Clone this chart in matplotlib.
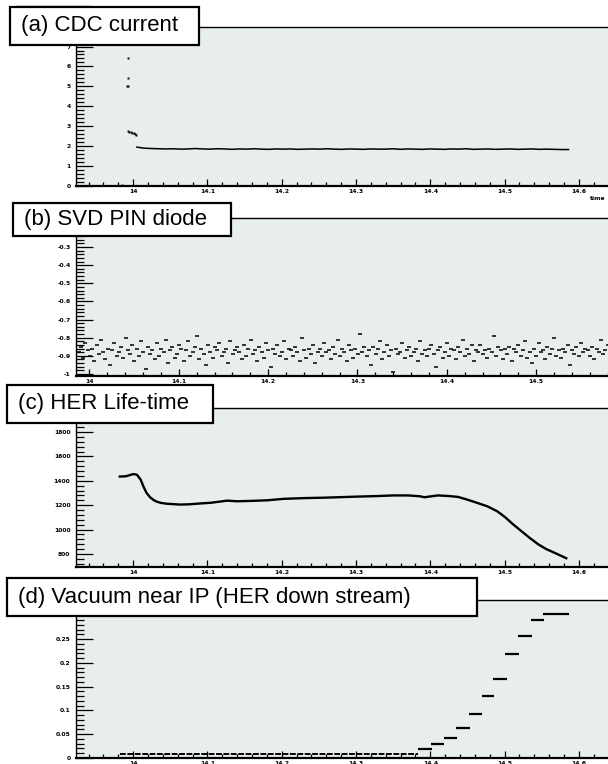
import matplotlib
matplotlib.use("Agg")
import matplotlib.pyplot as plt
import numpy as np
from matplotlib.patches import Rectangle
from matplotlib.lines import Line2D
from matplotlib.ticker import MultipleLocator, AutoMinorLocator

# ---- data ----
# (a) CDC current
cdc_early_t = [13.985, 13.993, 13.993, 13.991, 13.993, 13.993, 13.995, 13.997, 13.999, 14.001, 14.003, 14.004]
cdc_early_v = [0.05, 6.40, 5.40, 5.00, 5.03, 2.74, 2.72, 2.70, 2.67, 2.64, 2.61, 2.58]
cdc_flat_start, cdc_flat_end = 14.005, 14.586
cdc_flat_v = [1.95, 1.90, 1.88, 1.87, 1.86, 1.87, 1.85, 1.86, 1.88, 1.86, 1.85, 1.87,
              1.86, 1.84, 1.86, 1.85, 1.87, 1.85, 1.84, 1.86, 1.85, 1.86, 1.84, 1.85,
              1.86, 1.85, 1.87, 1.85, 1.84, 1.86, 1.85, 1.84, 1.86, 1.85, 1.85, 1.87,
              1.84, 1.86, 1.85, 1.84, 1.86, 1.85, 1.84, 1.86, 1.85, 1.87, 1.84, 1.85,
              1.86, 1.84, 1.85, 1.86, 1.84, 1.85, 1.86, 1.84, 1.85, 1.84, 1.83, 1.83]

# (b) SVD PIN diode
pin_start, pin_end = 13.988, 14.585
pin_v = [-0.88, -0.85, -0.91, -0.83, -0.87, -0.90, -0.86, -0.93, -0.84, -0.89, -0.81, -0.88,
         -0.92, -0.86, -0.95, -0.87, -0.83, -0.90, -0.88, -0.85, -0.91, -0.80, -0.87, -0.89,
         -0.84, -0.93, -0.86, -0.90, -0.82, -0.88, -0.97, -0.85, -0.89, -0.87, -0.92, -0.83,
         -0.90, -0.86, -0.88, -0.81, -0.94, -0.87, -0.85, -0.91, -0.89, -0.84, -0.86, -0.93,
         -0.87, -0.82, -0.90, -0.88, -0.85, -0.79, -0.92, -0.86, -0.89, -0.95, -0.84, -0.88,
         -0.91, -0.85, -0.87, -0.83, -0.90, -0.88, -0.86, -0.94, -0.82, -0.89, -0.87, -0.85,
         -0.88, -0.92, -0.84, -0.90, -0.86, -0.81, -0.89, -0.87, -0.93, -0.85, -0.88, -0.91,
         -0.83, -0.87, -0.96, -0.86, -0.89, -0.84, -0.90, -0.88, -0.82, -0.92, -0.86, -0.87,
         -0.90, -0.85, -0.88, -0.93, -0.80, -0.87, -0.91, -0.86, -0.89, -0.84, -0.94, -0.88,
         -0.86, -0.90, -0.83, -0.88, -0.87, -0.92, -0.85, -0.89, -0.81, -0.90, -0.86, -0.88,
         -0.93, -0.84, -0.87, -0.91, -0.86, -0.89, -0.78, -0.88, -0.85, -0.90, -0.87, -0.95,
         -0.85, -0.89, -0.86, -0.82, -0.92, -0.88, -0.84, -0.90, -0.87, -0.99, -0.86, -0.89,
         -0.88, -0.83, -0.91, -0.87, -0.85, -0.90, -0.88, -0.86, -0.93, -0.82, -0.89, -0.87,
         -0.90, -0.86, -0.84, -0.89, -0.96, -0.87, -0.85, -0.91, -0.88, -0.83, -0.90, -0.86,
         -0.87, -0.92, -0.85, -0.88, -0.81, -0.90, -0.86, -0.89, -0.84, -0.93, -0.87, -0.88,
         -0.84, -0.89, -0.87, -0.91, -0.86, -0.88, -0.79, -0.90, -0.85, -0.87, -0.92, -0.86,
         -0.89, -0.85, -0.93, -0.86, -0.88, -0.84, -0.90, -0.87, -0.82, -0.91, -0.88, -0.94,
         -0.86, -0.90, -0.83, -0.88, -0.87, -0.92, -0.85, -0.89, -0.86, -0.80, -0.90, -0.87,
         -0.91, -0.86, -0.88, -0.84, -0.95, -0.87, -0.89, -0.85, -0.90, -0.83, -0.88, -0.86,
         -0.87, -0.90, -0.85, -0.92, -0.86, -0.88, -0.81, -0.89, -0.87, -0.84, -0.91, -0.88]

# (c) HER life-time
life_t = [13.982, 13.990, 14.000, 14.005, 14.010, 14.014, 14.018, 14.023, 14.028, 14.032,
          14.038, 14.045, 14.055, 14.063, 14.075, 14.090, 14.105, 14.126, 14.140, 14.158,
          14.180, 14.203, 14.230, 14.260, 14.300, 14.330, 14.350, 14.370, 14.386, 14.392,
          14.410, 14.425, 14.437, 14.450, 14.465, 14.477, 14.490, 14.500, 14.511, 14.522,
          14.533, 14.545, 14.556, 14.567, 14.583]
life_v = [1435, 1437, 1455, 1450, 1410, 1350, 1300, 1263, 1240, 1228,
          1218, 1212, 1208, 1205, 1207, 1214, 1220, 1237, 1232, 1235,
          1240, 1252, 1258, 1262, 1270, 1275, 1280, 1280, 1273, 1265,
          1280, 1275, 1268, 1245, 1215, 1190, 1150, 1105, 1045, 990,
          935, 880, 840, 810, 765]

# (d) vacuum near IP, stepwise readout
vac_start = [13.982, 14.384, 14.401, 14.418, 14.435, 14.452, 14.469, 14.485, 14.501, 14.518, 14.535, 14.552]
vac_end = [14.384, 14.402, 14.419, 14.436, 14.453, 14.469, 14.486, 14.503, 14.519, 14.537, 14.553, 14.586]
vac_v = [0.008, 0.018, 0.029, 0.043, 0.064, 0.093, 0.130, 0.167, 0.218, 0.256, 0.291, 0.303]

labels = ["(a) CDC current", "(b) SVD PIN diode", "(c) HER Life-time",
          "(d) Vacuum near IP (HER down stream)"]

W, H = 608, 764
BG = "#e8eded"
fig = plt.figure(figsize=(W / 100, H / 100), dpi=100)


def px_axes(left, top, bottom, right=622):
    return fig.add_axes([left / W, 1 - bottom / H, (right - left) / W, (bottom - top) / H])


def style(ax, ymaj):
    ax.set_facecolor(BG)
    ax.xaxis.set_major_locator(MultipleLocator(0.1))
    ax.xaxis.set_minor_locator(AutoMinorLocator(5))
    ax.yaxis.set_major_locator(MultipleLocator(ymaj))
    ax.yaxis.set_minor_locator(AutoMinorLocator(5))
    ax.tick_params(axis="y", which="major", direction="in", length=12, width=0.9, pad=4)
    ax.tick_params(axis="y", which="minor", direction="in", length=5.5, width=0.9)
    ax.tick_params(axis="x", which="major", direction="in", length=5, width=0.9, pad=2)
    ax.tick_params(axis="x", which="minor", direction="in", length=3, width=0.9)
    ax.tick_params(labelsize=4.3)
    for lab in ax.get_xticklabels() + ax.get_yticklabels():
        lab.set_fontweight("bold")
    ax.xaxis.set_major_formatter(plt.FuncFormatter(lambda v, p: "%g" % round(v, 2)))
    ax.yaxis.set_major_formatter(plt.FuncFormatter(lambda v, p: "%g" % round(v, 3)))
    ax.spines["top"].set_linewidth(1.0)
    ax.spines["left"].set_linewidth(1.0)
    ax.spines["bottom"].set_linewidth(1.6)


def label_box(x0, y0, x1, y1, text):
    fig.patches.append(Rectangle((x0 / W, 1 - y1 / H), (x1 - x0) / W, (y1 - y0) / H,
                                 transform=fig.transFigure, facecolor="white",
                                 edgecolor="black", linewidth=1.6, zorder=5))
    fig.text((x0 + 11) / W, 1 - (y0 + y1) / 2 / H, text, fontsize=16,
             family="Liberation Sans", va="center", ha="left", zorder=6)


# (a)
ax_a = px_axes(76, 27, 186)
ax_a.plot(cdc_early_t, cdc_early_v, "s", ms=1.4, color="black", mew=0)
t_a = np.linspace(cdc_flat_start, cdc_flat_end, len(cdc_flat_v))
ax_a.plot(t_a, cdc_flat_v, "-", lw=1.1, color="black")
ax_a.set_xlim(13.923, 14.658)
ax_a.set_ylim(0, 7.98)
style(ax_a, 1)
fig.text(590 / W, 1 - 199 / H, "time", fontsize=4.3, fontweight="bold", va="center")

# (b)
ax_b = px_axes(76, 218, 376)
t_b = np.linspace(pin_start, pin_end, len(pin_v))
ax_b.plot(t_b, pin_v, "_", ms=2.6, mew=1.1, color="black")
ax_b.set_xlim(13.985, 14.596)
ax_b.set_ylim(-1.011, -0.14)
style(ax_b, 0.1)

# (c)
ax_c = px_axes(76, 408, 567)
ax_c.plot(life_t, life_v, "-", lw=1.7, color="black")
ax_c.set_xlim(13.923, 14.658)
ax_c.set_ylim(693, 1997)
style(ax_c, 200)

# (d)
ax_d = px_axes(76, 600, 758)
ax_d.hlines(vac_v[:1], vac_start[:1], vac_end[:1], color="black", lw=1.4, linestyles=(0, (3, 0.8)))
ax_d.hlines(vac_v[1:], vac_start[1:], vac_end[1:], color="black", lw=1.6)
ax_d.set_xlim(13.923, 14.658)
ax_d.set_ylim(0, 0.332)
style(ax_d, 0.05)

# label boxes
label_box(10, 7, 199, 45, labels[0])
label_box(13, 203, 231, 236, labels[1])
label_box(7, 385, 213, 423, labels[2])
label_box(7, 578, 477, 616, labels[3])

# stray rule at the very top left
fig.lines.append(Line2D([17 / W, 90 / W], [1 - 6 / H, 1 - 6 / H], transform=fig.transFigure,
                        color="#333333", lw=1.0))

fig.savefig("out.png", dpi=100)
